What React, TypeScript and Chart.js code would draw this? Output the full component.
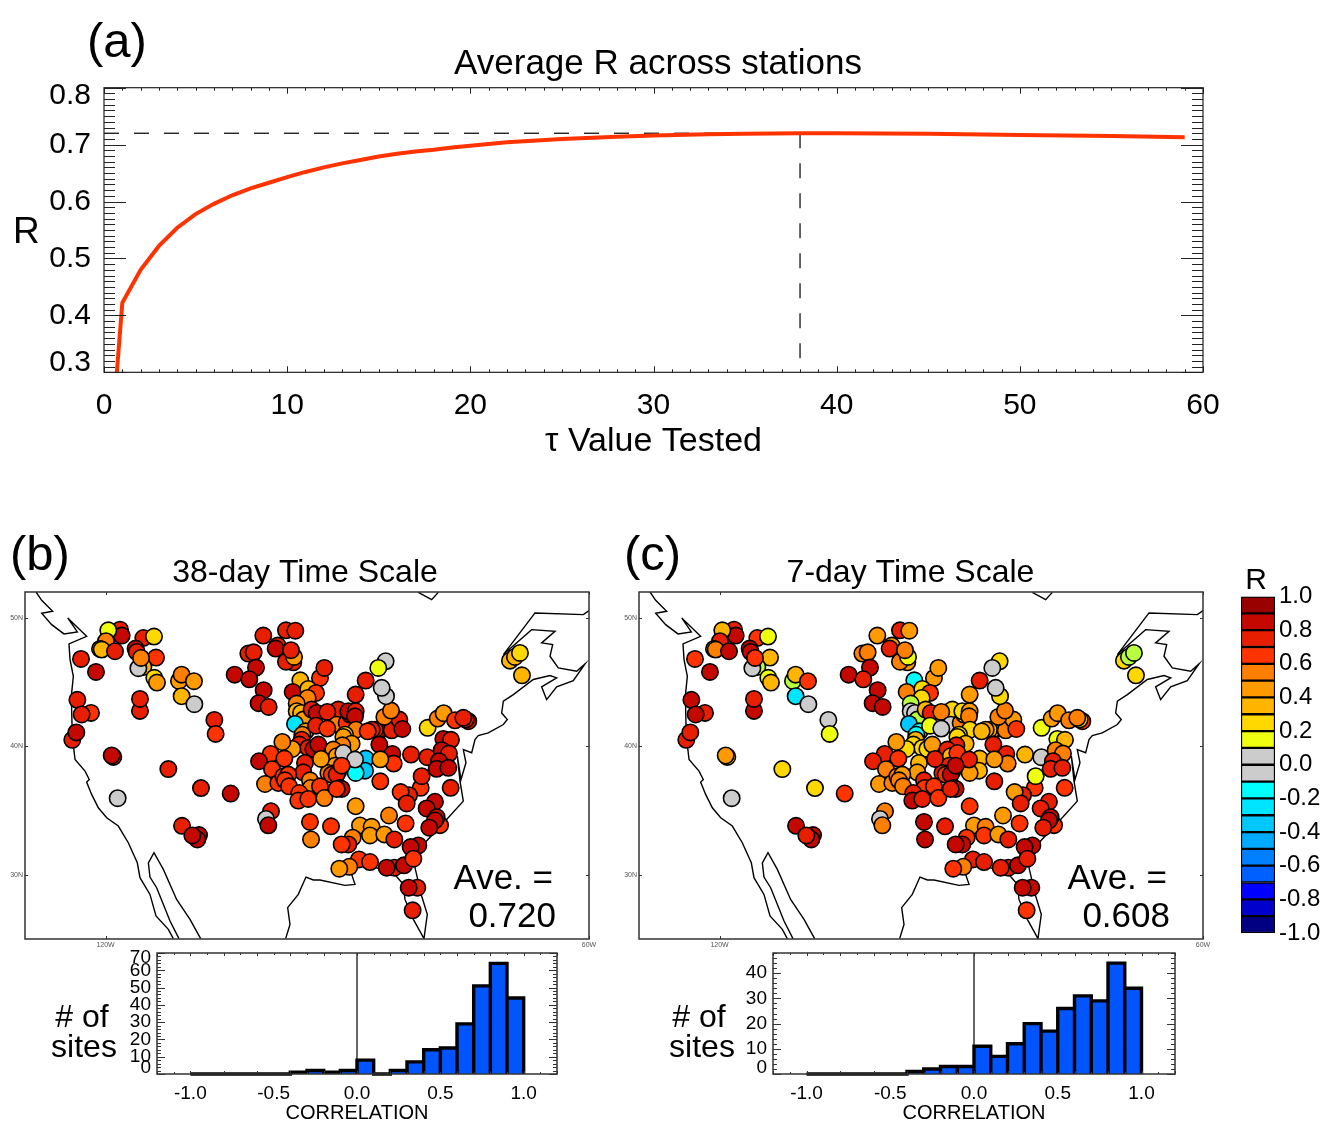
import React, { useEffect, useRef } from "react";
import { Chart, registerables } from "chart.js";

Chart.register(...registerables);

const FONT = '"Liberation Sans", Arial, sans-serif';

// ---- Panel (a)
const tauValues = [0.7, 1, 2, 3, 4, 5, 6, 7, 8, 9, 10, 11, 12, 13, 14, 15, 16, 17, 18, 19, 20, 22, 25, 28, 30, 33, 35, 38, 40, 45, 50, 55, 59];
const tauR = [0.3, 0.422, 0.48, 0.522, 0.554, 0.578, 0.596, 0.611, 0.623, 0.633, 0.643, 0.652, 0.66, 0.667, 0.673, 0.679, 0.684, 0.688, 0.691, 0.695, 0.698, 0.704, 0.71, 0.714, 0.716, 0.718, 0.719, 0.72, 0.72, 0.719, 0.717, 0.715, 0.713];
const bestTau = 38;
const bestR = 0.72;
const tauTicks = [0, 10, 20, 30, 40, 50, 60];
const rTicks = [0.3, 0.4, 0.5, 0.6, 0.7, 0.8];

// ---- Colour scale
const binLow = [0.9, 0.8, 0.7, 0.6, 0.5, 0.4, 0.3, 0.2, 0.1, 0, -0.1, -0.2, -0.3, -0.4, -0.5, -0.6, -0.7, -0.8, -0.9, -1];
const binColors = ["#990000", "#C40800", "#E81E00", "#FF3300", "#FF7F00", "#FF9A00", "#FFB400", "#FFD800", "#EEFF10", "#CCCCCC", "#CCCCCC", "#00FFFF", "#00E5FF", "#00C8FF", "#00AAFF", "#0080FF", "#0060FF", "#0000FF", "#0000CC", "#000080"];
const limeR = 0.11;
const limeColor = "#B8FF40";
const colorbarTicks = [-1, -0.8, -0.6, -0.4, -0.2, 0, 0.2, 0.4, 0.6, 0.8, 1];

// ---- Stations
const stationLon = [
  -118.21, -118.0, -119.66, -119.95, -120.69, -120.48, -118.83, -123.05, -121.19, -115.31, -113.99, -116.27, -116.14, -113.74, -115.31, -115.93, -115.6, -113.95, -113.62, -110.89,
  -110.56, -109.03, -110.56, -108.98, -106.5, -106.34, -123.5, -121.81, -122.97, -115.73, -115.73, -124.13, -123.63, -119.04, -119.24, -112.21, -108.16, -104.47, -118.5, -110.51,
  -108.4, -108.61, -109.23, -100.42, -97.61, -96.45, -98.64, -98.89, -102.28, -101.62, -96.7, -97.61, -96.61, -96.99, -101.33, -103.98, -102.16, -100.38, -101.0, -99.76,
  -95.83, -93.39, -92.85, -96.78, -94.84, -93.88, -94.92, -96.28, -96.28, -95.74, -95.46, -96.49, -95.17, -95.58, -95.66, -95.95, -94.84, -94.21, -93.59,
  -94.42, -93.8, -91.73, -91.11, -92.48, -93.88, -91.32, -92.48, -90.08, -89.66, -89.87, -88.96, -89.04, -88.92, -85.94, -86.15, -86.56, -86.97, -87.47, -84.49, -83.54, -85.4, -84.57, -83.17, -88.96, -87.72, -85.24, -86.15, -85.19, -85.73,
  -90.28, -90.49, -89.46, -90.61, -91.73, -91.32, -90.49, -87.72, -87.8, -88.96, -89.04, -86.02, -84.41, -84.24, -85.9, -82.09, -85.9, -91.52, -91.11, -92.35, -91.94, -91.32, -90.7,
  -93.26, -95.25, -95.46, -96.82, -98.06, -99.51, -97.81, -100.95, -99.34, -100.21, -98.56, -97.94, -97.32, -97.73, -97.23, -94.63, -94.55, -93.39, -95.95, -96.08, -94.84, -92.85, -90.9, -90.7, -91.32, -88.96, -99.47, -100.09, -99.8, -94.63, -92.02,
  -80.03, -78.78, -78.04, -76.63, -74.98, -75.31, -75.6, -78.08, -77.13, -80.07, -78.29, -77.38, -78.62, -78.91, -77.46, -80.89, -80.77, -77.17, -82.34, -83.38, -82.63, -79.12, -80.15, -78.49, -78.91, -79.12, -79.82, -84.82, -82.76,
  -94.5, -88.42, -86.98, -89.33, -87.18, -85.4, -84.16, -89.87, -90.7, -88.55, -87.18, -89.75, -90.99, -84.16, -85.11, -82.96, -81.18, -82.14, -81.8, -81.31, -82.38, -81.89, -69.81, -69.19, -68.57, -68.32,
];
const stationLat = [
  49.07, 48.61, 49.02, 48.17, 47.57, 47.52, 47.39, 46.79, 45.78, 48.42, 48.53, 47.6, 47.34, 46.9, 46.17, 46.07, 46.87, 45.32, 44.95, 45.08,
  45.57, 45.06, 43.89, 43.27, 42.05, 40.96, 43.61, 42.59, 42.47, 42.75, 43.68, 40.5, 41.07, 39.17, 39.28, 38.22, 36.74, 36.32, 35.96, 33.81,
  33.09, 32.75, 33.06, 48.61, 49.02, 48.99, 47.83, 47.6, 47.21, 47.31, 46.53, 46.58, 46.95, 47.47, 46.12, 45.57, 45.21, 44.36, 43.35, 43.06,
  45.13, 45.31, 46.09, 44.22, 44.46, 44.15, 43.76, 43.32, 42.72, 42.59, 42.07, 41.73, 41.16, 40.9, 40.51, 40.13, 39.87, 39.79, 40.13,
  42.85, 42.59, 42.64, 42.85, 42.67, 41.6, 41.68, 41.37, 41.81, 42.46, 42.72, 42.72, 42.33, 41.29, 41.24, 41.29, 41.29, 41.29, 41.16, 41.24, 42.07, 42.28, 42.77, 41.34, 44.02, 45.11, 46.61, 46.09, 43.89, 44.54,
  40.9, 40.72, 40.2, 40.07, 39.74, 39.22, 39.48, 39.04, 38.1, 37.92, 38.96, 40.13, 39.4, 38.65, 38.98, 39.35, 37.27, 38.49, 38.05, 37.92, 37.79, 37.79, 38.49,
  39.01, 38.7, 37.97, 39.79, 40.33, 39.4, 39.04, 38.83, 38.21, 37.06, 37.14, 37.66, 37.79, 37.35, 36.88, 37.35, 36.75, 36.88, 36.36, 35.77, 35.9, 35.97, 36.75, 36.68, 36.68, 35.33, 34.94, 34.34, 33.85, 34.11, 33.77,
  41.43, 42.15, 42.57, 42.02, 41.95, 42.08, 42.21, 40.57, 40.5, 39.15, 39.69, 39.43, 38.84, 38.24, 38.32, 36.76, 37.67, 36.76, 36.19, 36.43, 35.55, 35.68, 35.16, 33.86, 34.48, 34.23, 33.66, 34.61, 33.99,
  32.75, 33.84, 33.73, 32.88, 33.06, 33.14, 32.75, 32.36, 32.36, 31.19, 30.99, 30.62, 30.47, 30.55, 30.55, 30.73, 32.28, 32.15, 31.25, 28.99, 28.99, 27.23, 46.66, 46.95, 47.26, 45.52,
];
const stationR38 = [
  0.75, 0.85, 0.15, 0.55, 0.45, 0.35, 0.75, 0.75, 0.85, 0.75, 0.25, 0.85, 0.75, 0.65, 0.35, 0.05, 0.55, 0.25, 0.45, 0.45,
  0.55, 0.45, 0.35, 0.05, 0.75, 0.65, 0.75, 0.65, 0.75, 0.75, 0.75, 0.75, 0.85, 0.65, 0.85, 0.75, 0.75, 0.85, 0.05, 0.75,
  0.85, 0.85, 0.85, 0.75, 0.75, 0.75, 0.75, 0.85, 0.75, 0.75, 0.75, 0.75, 0.45, 0.75, 0.85, 0.85, 0.85, 0.85, 0.85, 0.75,
  0.35, 0.65, 0.75, 0.85, 0.35, 0.65, 0.55, 0.55, 0.35, 0.35, 0.45, -0.25, 0.45, 0.55, 0.75, 0.75, 0.75, 0.85, 0.85,
  0.75, 0.85, 0.85, 0.75, 0.75, 0.75, 0.55, 0.65, 0.65, 0.85, 0.85, 0.75, 0.85, 0.55, 0.75, 0.75, 0.75, 0.75, 0.65, 0.75, 0.75, 0.55, 0.55, 0.85, 0.75, 0.75, 0.05, 0.15, 0.05, 0.05,
  0.25, 0.45, 0.45, 0.55, 0.55, 0.45, 0.05, -0.35, -0.35, -0.15, 0.05, 0.85, 0.85, 0.65, 0.45, 0.75, 0.65, 0.45, 0.55, 0.55, 0.65, 0.75, 0.65,
  0.45, 0.75, 0.75, 0.45, 0.55, 0.65, 0.65, 0.85, 0.65, 0.55, 0.65, 0.65, 0.65, 0.65, 0.65, 0.55, 0.55, 0.65, 0.65, 0.65, 0.65, 0.55, 0.85, 0.85, 0.65, 0.45, 0.75, 0.05, 0.85, 0.65, 0.65,
  0.25, 0.55, 0.45, 0.65, 0.85, 0.75, 0.75, 0.85, 0.75, 0.75, 0.85, 0.75, 0.85, 0.85, 0.85, 0.65, 0.75, 0.75, 0.75, 0.65, 0.75, 0.85, 0.85, 0.65, 0.85, 0.85, 0.85, 0.55, 0.65,
  0.55, 0.45, 0.45, 0.55, 0.45, 0.45, 0.75, 0.75, 0.65, 0.65, 0.65, 0.55, 0.45, 0.75, 0.85, 0.85, 0.85, 0.85, 0.65, 0.75, 0.85, 0.75, 0.35, 0.35, 0.25, 0.35,
];
const stationR7 = [
  0.75, 0.85, 0.35, 0.75, 0.35, 0.55, 0.85, 0.65, 0.85, 0.65, 0.15, 0.85, 0.85, 0.35, 0.11, 0.05, 0.65, 0.15, 0.35, 0.11,
  0.35, 0.65, -0.25, 0.05, 0.05, 0.15, 0.85, 0.75, 0.85, 0.85, 0.75, 0.75, 0.75, 0.25, 0.45, 0.25, 0.25, 0.65, 0.05, 0.85,
  0.85, 0.85, 0.75, 0.45, 0.75, 0.45, 0.45, 0.75, 0.55, 0.55, 0.45, 0.55, 0.15, 0.55, 0.85, 0.85, 0.75, 0.85, 0.85, 0.85,
  -0.15, 0.45, 0.45, 0.55, 0.25, 0.65, 0.25, 0.11, 0.05, 0.05, 0.11, -0.35, -0.15, -0.15, 0.35, 0.25, 0.25, 0.25, 0.45,
  0.35, 0.75, 0.25, 0.25, 0.55, 0.15, 0.05, 0.05, 0.55, 0.25, 0.25, 0.45, 0.55, 0.25, 0.75, 0.45, 0.35, 0.45, 0.35, 0.55, 0.45, 0.55, 0.55, 0.65, 0.45, 0.75, 0.25, 0.05, 0.25, 0.05,
  0.25, 0.25, 0.35, 0.75, 0.75, 0.35, 0.65, 0.35, 0.35, 0.45, 0.75, 0.75, 0.75, 0.55, 0.45, 0.35, 0.75, 0.75, 0.75, 0.75, 0.65, 0.85, 0.85,
  0.75, 0.35, 0.45, 0.25, 0.45, 0.75, 0.65, 0.75, 0.55, 0.45, 0.55, 0.55, 0.45, 0.55, 0.55, 0.75, 0.65, 0.65, 0.75, 0.85, 0.75, 0.65, 0.85, 0.85, 0.75, 0.65, 0.55, 0.05, 0.55, 0.85, 0.75,
  0.15, 0.45, 0.45, 0.55, 0.65, 0.25, 0.55, 0.15, 0.35, 0.05, 0.55, 0.55, 0.75, 0.75, 0.75, 0.65, 0.15, 0.65, 0.75, 0.45, 0.75, 0.75, 0.75, 0.65, 0.85, 0.85, 0.75, 0.45, 0.65,
  0.85, 0.45, 0.55, 0.65, 0.65, 0.45, 0.75, 0.85, 0.85, 0.75, 0.75, 0.55, 0.65, 0.75, 0.75, 0.85, 0.85, 0.85, 0.75, 0.85, 0.85, 0.65, 0.25, 0.11, 0.11, 0.25,
];

// ---- Coastlines
const westLon = [-128.63, -127.93, -126.57, -127.93, -126.69, -125.16, -123.5, -124.7, -122.35, -124.54, -124.41, -124.0, -124.21, -124.21, -124.13, -123.79, -122.55, -122.02, -122.35, -121.73, -120.9, -119.86, -118.42, -117.18, -116.06, -115.73, -114.49, -113.74, -112.21, -111.59];
const westLat = [52, 51.35, 50.5, 50.34, 49.46, 48.74, 48.89, 49.98, 48.55, 47.96, 46.74, 45.44, 44.15, 42.85, 40.78, 38.97, 38.06, 37.41, 37.21, 36.25, 35.21, 34.43, 33.79, 32.49, 30.93, 29.77, 28.47, 26.79, 25.75, 25.03];
const bajaLon = [-110.89, -112.0, -113.66, -114.49, -114.69, -113.99, -112.83, -111.18, -109.52, -108.2];
const bajaLat = [25.03, 26.4, 28.99, 29.82, 30.93, 31.71, 30.42, 28.08, 26.53, 25.03];
const eastLon = [-97.65, -97.11, -97.4, -96.08, -95.13, -94.21, -93.39, -90.29, -89.04, -89.46, -88.63, -84.29, -83.05, -82.84, -81.8, -80.48, -80.07, -80.77, -81.6, -80.36, -77.67, -75.6, -76.01, -76.34, -75.89, -75.27, -75.6, -74.56, -74.15, -73.74, -72.5, -70.63, -70.14, -70.84, -70.63, -69.39, -66.91, -64.84, -64.01, -65.88, -65.26, -64.01, -61.95, -60.5, -61.53, -63.81, -64.84, -64.51, -65.88, -64.22, -67.12, -70.63, -66.7, -60.7, -59.96];
const eastLat = [25.03, 26.14, 27.44, 28.47, 29.82, 29.59, 29.59, 29.17, 29.25, 30.03, 30.94, 30.16, 29.25, 28.08, 26.53, 25.03, 26.92, 28.34, 30.55, 32.49, 34.3, 35.73, 37.28, 39.23, 37.41, 38.71, 39.74, 39.49, 40.52, 40.83, 41.04, 41.69, 42.08, 42.59, 43.5, 44.02, 45.19, 45.5, 45.32, 44.62, 43.63, 44.62, 45.11, 46.4, 45.83, 46.09, 47.0, 47.91, 48.04, 48.94, 49.07, 47.13, 50.37, 50.24, 50.57];
const hudsonLon = [-81.18, -79.53, -78.7];
const hudsonLat = [51.97, 51.4, 51.97];
const mapLatTicks = [30, 40, 50];
const mapLonTicks = [-120, -60];

// ---- Histograms
const histBinStart = [-1, -0.9, -0.8, -0.7, -0.6, -0.5, -0.4, -0.3, -0.2, -0.1, 0, 0.1, 0.2, 0.3, 0.4, 0.5, 0.6, 0.7, 0.8, 0.9];
const histCount38 = [0, 0, 0, 0, 0, 0, 1, 2, 1, 2, 8, 0, 2, 7, 14, 15, 29, 51, 64, 44];
const histCount7 = [0, 0, 0, 0, 0, 0, 1, 2, 3, 3, 11, 7, 12, 20, 17, 26, 31, 29, 44, 34];
const histXTicks = [-1, -0.5, 0, 0.5, 1];
const histYTicks38 = [0, 10, 20, 30, 40, 50, 60, 70];
const histYTicks7 = [0, 10, 20, 30, 40];

function colorOf(r: number): string {
  if (r === limeR) return limeColor;
  for (let i = 0; i < binLow.length; i++) if (r >= binLow[i]) return binColors[i];
  return binColors[binColors.length - 1];
}

const zip = (xs: number[], ys: number[]) => xs.map((x, i) => ({ x, y: ys[i] }));

function drawAxisTicks(ctx: any, area: any, scale: any, spec: any, horizontal: boolean) {
  if (!spec) return;
  const n = Math.round((spec.end - spec.start) / spec.step);
  for (let i = 0; i <= n; i++) {
    const isMajor = i % spec.majorEvery === 0;
    const len = isMajor ? spec.majorLen : spec.minorLen;
    const p = Math.round(scale.getPixelForValue(spec.start + i * spec.step)) + 0.5;
    ctx.beginPath();
    if (horizontal) {
      ctx.moveTo(p, area.top);
      ctx.lineTo(p, area.top + len);
      ctx.moveTo(p, area.bottom);
      ctx.lineTo(p, area.bottom - len);
    } else {
      ctx.moveTo(area.left, p);
      ctx.lineTo(area.left + len, p);
      ctx.moveTo(area.right, p);
      ctx.lineTo(area.right - len, p);
    }
    ctx.stroke();
  }
}

const framePlugin = {
  id: "frame",
  beforeDraw(chart: any, _args: any, opts: any) {
    const y = chart.scales.y;
    if (!y || !opts.yShift) return;
    const items = y.getLabelItems();
    if (!items.length) return;
    items[0].options.translation[1] += opts.yShift[0];
    items[items.length - 1].options.translation[1] += opts.yShift[1];
  },
  afterDraw(chart: any, _args: any, opts: any) {
    const { ctx, chartArea: a, scales } = chart;
    ctx.save();
    ctx.strokeStyle = opts.color || "#222";
    ctx.lineWidth = opts.tickWidth || 1;
    drawAxisTicks(ctx, a, scales.x, opts.xTicks, true);
    drawAxisTicks(ctx, a, scales.y, opts.yTicks, false);
    ctx.lineWidth = opts.width || 1;
    ctx.strokeRect(a.left, a.top, a.right - a.left, a.bottom - a.top);
    ctx.restore();
  },
};

const fixedTicks = (vals: number[]) => (s: any) => {
  s.ticks = vals.map((value) => ({ value }));
};
const hiddenGrid = { display: false, drawTicks: false };
const hiddenBorder = { display: false };
// Empty right-hand axis: keeps the plot's right edge in place while the title stays centred on the whole canvas.
const rightSpacer = (w: number) => ({
  position: "right",
  grid: hiddenGrid,
  border: hiddenBorder,
  ticks: { display: false },
  afterFit: (s: any) => { s.width = w; },
});

function curveConfig() {
  return {
    type: "line",
    data: {
      datasets: [
        { data: zip(tauValues, tauR), borderColor: "#FF3300", borderWidth: 4, pointRadius: 0, tension: 0, borderJoinStyle: "miter" },
        { data: [{ x: 0, y: bestR }, { x: bestTau, y: bestR }], borderColor: "#000", borderWidth: 1.2, borderDash: [15, 15], pointRadius: 0 },
        { data: [{ x: bestTau, y: bestR }, { x: bestTau, y: 0.3 }], borderColor: "#000", borderWidth: 1.2, borderDash: [15, 15], pointRadius: 0 },
      ],
    },
    options: {
      animation: false,
      responsive: false,
      plugins: {
        legend: { display: false },
        tooltip: { enabled: false },
        title: { display: true, text: "Average R across stations", color: "#000", font: { family: FONT, size: 35, weight: "normal" }, padding: { top: 43, bottom: 2.7 } },
        frame: {
          color: "#222",
          width: 1.2,
          yShift: [-10, 8],
          xTicks: { start: 0, end: 60, step: 1, majorEvery: 10, minorLen: 3, majorLen: 6 },
          yTicks: { start: 0.3, end: 0.8, step: 0.01, majorEvery: 10, minorLen: 11, majorLen: 22 },
        },
      },
      scales: {
        x: {
          type: "linear", min: 0, max: 60,
          afterBuildTicks: fixedTicks(tauTicks),
          afterFit: (s: any) => { s.height = 97.7; },
          grid: hiddenGrid, border: hiddenBorder,
          ticks: { autoSkip: false, maxRotation: 0, color: "#000", padding: 15, font: { family: FONT, size: 30 } },
          title: { display: true, text: "τ Value Tested", color: "#000", font: { family: FONT, size: 34 }, padding: { top: 0, bottom: 8 } },
        },
        y: {
          type: "linear", min: 0.3, max: 0.8,
          afterBuildTicks: fixedTicks(rTicks),
          afterFit: (s: any) => { s.width = 104; },
          grid: hiddenGrid, border: hiddenBorder,
          ticks: { autoSkip: false, color: "#000", padding: 13, font: { family: FONT, size: 30 }, callback: (v: number) => v.toFixed(1) },
        },
        yr: rightSpacer(113),
      },
    },
    plugins: [framePlugin],
  };
}

function mapConfig(title: string, rs: number[], left: number, rightPad: number) {
  const coast = (lon: number[], lat: number[]) => ({
    type: "line",
    data: zip(lon, lat),
    borderColor: "#000",
    borderWidth: 1.4,
    pointRadius: 0,
    tension: 0,
    showLine: true,
  });
  return {
    type: "scatter",
    data: {
      datasets: [
        {
          data: zip(stationLon, stationLat),
          backgroundColor: rs.map(colorOf),
          borderColor: "#000",
          borderWidth: 1.6,
          pointRadius: 8.2,
          pointBorderWidth: 1.6,
          clip: false,
        },
        coast(westLon, westLat),
        coast(bajaLon, bajaLat),
        coast(eastLon, eastLat),
        coast(hudsonLon, hudsonLat),
      ],
    },
    options: {
      animation: false,
      responsive: false,
      plugins: {
        legend: { display: false },
        tooltip: { enabled: false },
        title: { display: true, text: title, color: "#000", font: { family: FONT, size: 32, weight: "normal" }, padding: { top: 28.6, bottom: 0 } },
        frame: {
          color: "#333",
          width: 1.5,
          xTicks: { start: -120, end: -60, step: 60, majorEvery: 1, minorLen: 3, majorLen: 3 },
          yTicks: { start: 30, end: 50, step: 10, majorEvery: 1, minorLen: 3, majorLen: 3 },
        },
      },
      scales: {
        x: {
          type: "linear", min: -130, max: -60,
          afterBuildTicks: fixedTicks(mapLonTicks),
          afterFit: (s: any) => { s.height = 30; },
          grid: hiddenGrid, border: hiddenBorder,
          ticks: { autoSkip: false, maxRotation: 0, color: "#555", padding: 2, font: { family: FONT, size: 7 }, callback: (v: number) => `${-v}W` },
        },
        y: {
          type: "linear", min: 25, max: 52,
          afterBuildTicks: fixedTicks(mapLatTicks),
          afterFit: (s: any) => { s.width = left; },
          grid: hiddenGrid, border: hiddenBorder,
          ticks: { autoSkip: false, color: "#555", padding: 2, font: { family: FONT, size: 7 }, callback: (v: number) => `${v}N` },
        },
        yr: rightSpacer(rightPad),
      },
    },
    plugins: [framePlugin],
  };
}

function histConfig(counts: number[], yMax: number, yTicks: number[], yShift: number[], rightPad: number) {
  const outline: { x: number; y: number }[] = [{ x: histBinStart[0], y: 0 }];
  histBinStart.forEach((lo, i) => {
    outline.push({ x: lo, y: counts[i] }, { x: lo + 0.1, y: counts[i] }, { x: lo + 0.1, y: 0 });
  });
  return {
    type: "bar",
    data: {
      datasets: [
        { type: "line", data: outline, borderColor: "#000", borderWidth: 3.4, pointRadius: 0, tension: 0, borderJoinStyle: "miter", clip: false },
        { type: "bar", data: histBinStart.map((lo, i) => ({ x: lo + 0.05, y: counts[i] })), backgroundColor: "#0055FF", borderWidth: 0, barPercentage: 1, categoryPercentage: 1 },
        { type: "line", data: [{ x: 0, y: 0 }, { x: 0, y: yMax }], borderColor: "#000", borderWidth: 1.2, pointRadius: 0 },
      ],
    },
    options: {
      animation: false,
      responsive: false,
      layout: { padding: { top: 23, right: rightPad } },
      plugins: {
        legend: { display: false },
        tooltip: { enabled: false },
        frame: {
          color: "#333",
          width: 1.5,
          yShift,
          xTicks: { start: -1.2, end: 1.2, step: 0.1, majorEvery: 2, minorLen: 2, majorLen: 3 },
          yTicks: { start: 0, end: yMax, step: 2, majorEvery: 5, minorLen: 4, majorLen: 8 },
        },
      },
      scales: {
        x: {
          type: "linear", min: -1.2, max: 1.2, offset: false,
          afterBuildTicks: fixedTicks(histXTicks),
          afterFit: (s: any) => { s.height = 56; },
          grid: hiddenGrid, border: hiddenBorder,
          ticks: { autoSkip: false, maxRotation: 0, color: "#000", padding: 8, font: { family: FONT, size: 19 }, callback: (v: number) => v.toFixed(1) },
          title: { display: true, text: "CORRELATION", color: "#000", font: { family: FONT, size: 20 }, padding: { top: 0, bottom: 5 } },
        },
        y: {
          type: "linear", min: 0, max: yMax,
          afterBuildTicks: fixedTicks(yTicks),
          afterFit: (s: any) => { s.width = 157; },
          grid: hiddenGrid, border: hiddenBorder,
          ticks: { autoSkip: false, color: "#000", padding: 6, font: { family: FONT, size: 19 } },
        },
      },
    },
    plugins: [framePlugin],
  };
}

function colorbarConfig() {
  return {
    type: "bar",
    data: {
      labels: ["R"],
      datasets: binLow.map((lo, i) => ({
        data: [[lo, lo + 0.1]],
        backgroundColor: binColors[i],
        borderColor: "#000",
        borderWidth: 1.5,
        borderSkipped: false,
        barPercentage: 1,
        categoryPercentage: 1,
      })),
    },
    options: {
      animation: false,
      responsive: false,
      layout: { padding: { left: 11, top: 26.5, bottom: 22 } },
      plugins: { legend: { display: false }, tooltip: { enabled: false } },
      scales: {
        x: { display: false, stacked: true },
        y: {
          type: "linear", position: "right", min: -1, max: 1,
          afterBuildTicks: fixedTicks(colorbarTicks),
          afterFit: (s: any) => { s.width = 58; },
          grid: hiddenGrid, border: hiddenBorder,
          ticks: { autoSkip: false, color: "#000", crossAlign: "near", padding: 4, font: { family: FONT, size: 24 }, callback: (v: number) => v.toFixed(1) },
        },
      },
    },
  };
}

function Panel({ left, top, width, height, config }: any) {
  const ref = useRef<HTMLCanvasElement>(null);
  useEffect(() => {
    const chart = new Chart(ref.current as any, config() as any);
    return () => chart.destroy();
  }, []);
  return <canvas ref={ref} width={width} height={height} style={{ position: "absolute", left, top, width, height, display: "block" }} />;
}

function Label({ x, y, size, children, align = "left" }: any) {
  const tx = align === "center" ? "-50%" : align === "right" ? "-100%" : "0";
  return (
    <div style={{ position: "absolute", left: x, top: y, transform: `translate(${tx},-50%)`, fontFamily: FONT, fontSize: size, lineHeight: 1, color: "#000", whiteSpace: "nowrap" }}>
      {children}
    </div>
  );
}

export default function App() {
  return (
    <div style={{ position: "absolute", left: 0, top: 0, width: 1333, height: 1123, overflow: "hidden", background: "#fff" }}>
      <Panel left={0} top={0} width={1316} height={470} config={curveConfig} />
      <Panel left={0} top={525} width={610} height={444} config={() => mapConfig("38-day Time Scale", stationR38, 25, 21)} />
      <Panel left={600} top={525} width={621} height={444} config={() => mapConfig("7-day Time Scale", stationR7, 39, 18)} />
      <Panel left={0} top={930} width={620} height={200} config={() => histConfig(histCount38, 70, histYTicks38, [-6, 5], 63)} />
      <Panel left={616} top={930} width={620} height={200} config={() => histConfig(histCount7, 48, histYTicks7, [-6, 0], 61)} />
      <Panel left={1230} top={570} width={103} height={385} config={colorbarConfig} />
      <Label x={87} y={40} size={49}>(a)</Label>
      <Label x={13} y={230} size={37}>R</Label>
      <Label x={10} y={553} size={49}>(b)</Label>
      <Label x={624} y={553} size={49}>(c)</Label>
      <Label x={553} y={876} size={35} align="right">Ave. =</Label>
      <Label x={556} y={914} size={35} align="right">0.720</Label>
      <Label x={1167} y={876} size={35} align="right">Ave. =</Label>
      <Label x={1170} y={914} size={35} align="right">0.608</Label>
      <Label x={82} y={1016} size={32} align="center"># of</Label>
      <Label x={84} y={1046} size={32} align="center">sites</Label>
      <Label x={699} y={1016} size={32} align="center"># of</Label>
      <Label x={702} y={1046} size={32} align="center">sites</Label>
      <Label x={1256} y={579} size={30} align="center">R</Label>
    </div>
  );
}
